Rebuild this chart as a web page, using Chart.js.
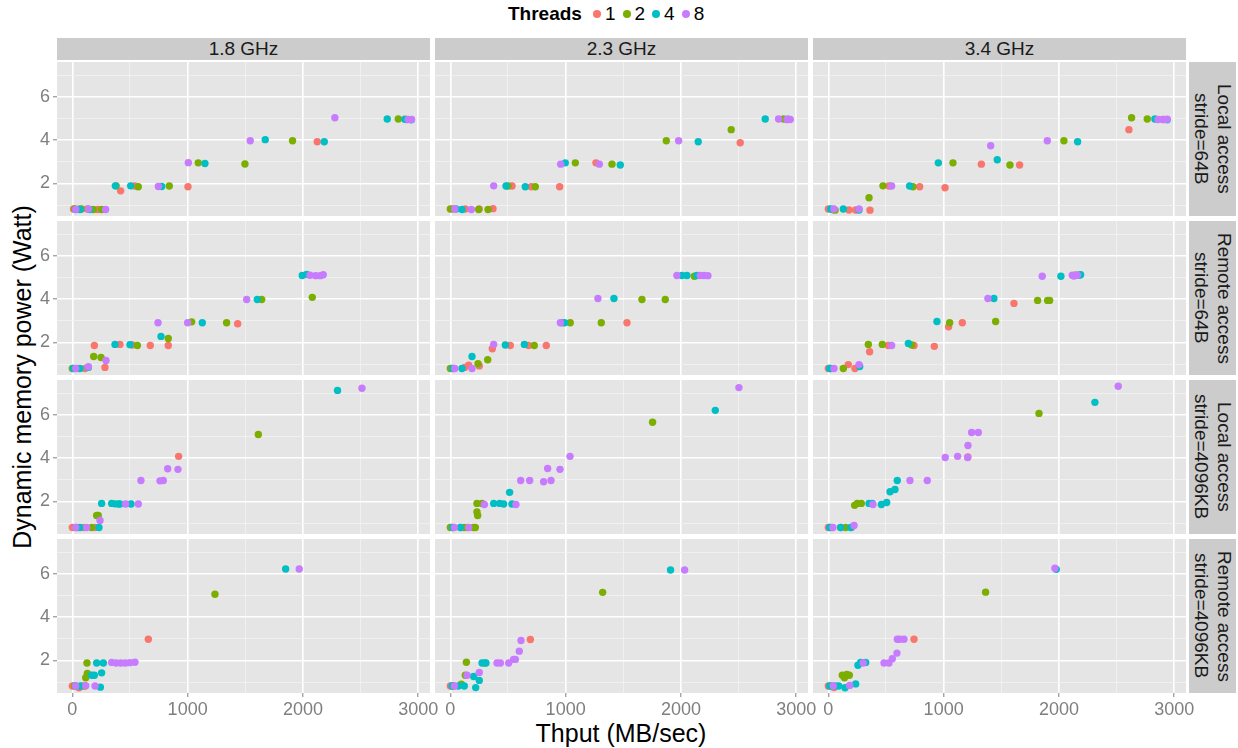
<!DOCTYPE html>
<html>
<head>
<meta charset="utf-8">
<script src="https://cdn.jsdelivr.net/npm/chart.js@4.4.1/dist/chart.umd.min.js"></script>
<style>
  body { margin: 0; width: 1238px; height: 748px; background: #fff; position: relative; overflow: hidden;
         font-family: "Liberation Sans", Arial, sans-serif; }
  canvas { position: absolute; }
  .strip { position: absolute; background: #CCCCCC; color: #1A1A1A; font-size: 19px;
           display: flex; align-items: center; justify-content: center; white-space: nowrap; }
  .strip.side { writing-mode: vertical-rl; line-height: 23px; text-align: center; }
  .title { position: absolute; color: #000; font-size: 25px; white-space: nowrap; }
  #legend { position: absolute; left: 508px; top: 2px; height: 24px; display: flex; align-items: center;
            font-size: 19px; color: #000; }
  #legend b { margin-right: 8px; }
  #legend .dot { width: 8px; height: 8px; border-radius: 50%; display: inline-block; margin: 0 4px 0 3px; }
  #legend span.lab { margin-right: 4px; }
</style>
</head>
<body>
<div id="legend"></div>
<script>
// facettes : colonnes = fréquence, lignes = type d'accès
const freqs = ['1.8 GHz', '2.3 GHz', '3.4 GHz'];
const accessRows = [['Local access', 'stride=64B'], ['Remote access', 'stride=64B'],
                    ['Local access', 'stride=4096KB'], ['Remote access', 'stride=4096KB']];
const threads = ['1', '2', '4', '8'];
const threadColors = ['#F8766D', '#7CAE00', '#00BFC4', '#C77CFF'];
const xTicks = [0, 1000, 2000, 3000];
const yTicks = [2, 4, 6];

// [débit MB/s, puissance W] — Local access, stride=64B
const local64_g18_t1 = [[10,0.82],[60,0.82],[130,0.82],[220,0.8],[419,1.66],[540,1.88],[1003,1.85],[2124,3.92],[2900,4.95]];
const local64_g18_t2 = [[20,0.82],[80,0.82],[182,0.8],[254,0.8],[380,1.89],[572,1.85],[841,1.88],[1092,2.95],[1497,2.9],[1910,3.97],[2827,4.97]];
const local64_g18_t4 = [[30,0.8],[66,0.8],[150,0.8],[373,1.89],[506,1.89],[775,1.86],[1150,2.92],[1673,4.02],[2185,3.92],[2731,4.97],[2884,4.96],[2940,4.94]];
const local64_g18_t8 = [[29,0.8],[139,0.82],[289,0.8],[746,1.86],[1006,2.96],[1543,3.97],[2277,5.03],[2913,4.95],[2942,4.95]];

const local64_g23_t1 = [[20,0.82],[130,0.82],[250,0.82],[370,0.84],[535,1.88],[702,1.85],[948,1.85],[1263,2.95],[2514,3.88],[2920,4.95]];
const local64_g23_t2 = [[0,0.82],[246,0.8],[327,0.8],[500,1.88],[737,1.85],[1084,2.95],[1402,2.89],[1873,3.97],[2436,4.48],[2890,4.97]];
const local64_g23_t4 = [[50,0.82],[101,0.8],[483,1.88],[650,1.85],[997,2.95],[1474,2.85],[2150,3.92],[2731,4.97],[2930,4.96]];
const local64_g23_t8 = [[38,0.82],[182,0.8],[376,1.89],[957,2.89],[1292,2.89],[1980,3.97],[2847,4.97],[2920,4.95],[2948,4.95]];

const local64_g34_t1 = [[0,0.82],[179,0.78],[237,0.78],[361,0.77],[526,1.88],[792,1.85],[1012,1.8],[1327,2.89],[1659,2.85],[2607,4.48],[2900,4.95]];
const local64_g34_t2 = [[40,0.8],[58,0.77],[353,1.34],[474,1.89],[734,1.85],[1081,2.95],[1575,2.85],[2043,3.97],[2630,5.03],[2766,4.97]];
const local64_g34_t4 = [[20,0.82],[130,0.82],[266,0.78],[705,1.88],[954,2.95],[1465,3.09],[2162,3.92],[2832,4.97],[2939,4.94]];
const local64_g34_t8 = [[49,0.82],[266,0.82],[549,1.88],[1408,3.74],[1899,3.97],[2860,4.95],[2910,4.95],[2939,4.96]];

// Remote access, stride=64B
const remote64_g18_t1 = [[40,0.8],[110,0.8],[191,1.86],[283,0.85],[413,1.91],[520,1.88],[676,1.86],[832,1.86],[1434,2.86]];
const remote64_g18_t2 = [[0,0.8],[185,1.35],[249,1.31],[564,1.86],[832,2.18],[1035,2.95],[1338,2.91],[1642,3.98],[2081,4.08]];
const remote64_g18_t4 = [[9,0.8],[66,0.8],[139,0.85],[370,1.91],[500,1.9],[769,2.28],[1127,2.91],[1604,3.98],[1994,5.09],[2032,5.14]];
const remote64_g18_t8 = [[29,0.8],[139,0.88],[292,1.17],[743,2.91],[1000,2.91],[1512,3.98],[2061,5.1],[2110,5.08],[2150,5.08],[2176,5.12]];

const remote64_g23_t1 = [[30,0.8],[124,0.85],[159,0.95],[251,0.92],[364,1.71],[520,1.86],[679,1.86],[832,1.86],[968,2.91],[1532,2.91]];
const remote64_g23_t2 = [[0,0.8],[240,1.02],[324,1.2],[728,1.86],[1040,2.91],[1309,2.91],[1662,3.98],[1864,3.98],[2116,5.05]];
const remote64_g23_t4 = [[20,0.8],[101,0.8],[188,1.35],[477,1.88],[642,1.91],[991,2.91],[1419,4.03],[2009,5.09],[2052,5.09],[2139,5.09]];
const remote64_g23_t8 = [[38,0.8],[188,0.8],[376,1.91],[954,2.91],[1280,4.03],[1965,5.09],[2168,5.09],[2200,5.09],[2234,5.08]];

const remote64_g34_t1 = [[0,0.8],[173,0.98],[231,0.8],[358,1.57],[520,1.86],[743,1.86],[919,1.82],[1043,2.72],[1162,2.91],[1610,3.8],[2150,5.1]];
const remote64_g34_t2 = [[20,0.8],[130,0.8],[347,1.91],[468,1.91],[723,1.88],[1052,2.91],[1451,2.97],[1815,3.94],[1902,3.94],[1919,3.94],[2140,5.1]];
const remote64_g34_t4 = [[12,0.8],[272,0.89],[694,1.95],[942,2.97],[1436,4.03],[2017,5.05],[2173,5.1],[2188,5.12]];
const remote64_g34_t8 = [[49,0.8],[266,0.98],[549,1.86],[1384,4.03],[1855,5.05],[2116,5.1],[2130,5.06],[2160,5.1]];

// Local access, stride=4096KB
const local4k_g18_t1 = [[0,0.8],[40,0.8],[100,0.8],[200,0.8],[922,4.08]];
const local4k_g18_t2 = [[30,0.8],[168,0.8],[211,1.35],[225,1.35],[1613,5.09]];
const local4k_g18_t4 = [[66,0.8],[231,0.8],[254,1.91],[341,1.91],[370,1.89],[400,1.88],[413,1.88],[509,1.88],[2300,7.12]];
const local4k_g18_t8 = [[29,0.8],[124,0.8],[240,1.12],[462,1.88],[572,1.88],[595,2.97],[760,2.95],[789,2.97],[827,3.51],[916,3.48],[2512,7.22]];

const local4k_g23_t1 = [[20,0.8],[90,0.8],[150,0.8]];
const local4k_g23_t2 = [[0,0.8],[120,0.8],[200,0.8],[217,0.8],[231,1.91],[231,1.52],[237,1.35],[275,1.91],[1754,5.65]];
const local4k_g23_t4 = [[20,0.8],[87,0.8],[376,1.91],[428,1.91],[462,1.88],[514,2.42],[535,1.88],[2298,6.2]];
const local4k_g23_t8 = [[35,0.8],[159,0.8],[295,1.86],[569,1.86],[610,2.97],[688,2.97],[809,2.91],[873,2.97],[844,3.52],[951,3.48],[1038,4.08],[2503,7.25]];

const local4k_g34_t1 = [[0,0.8],[107,0.8],[200,0.8],[1210,4.05]];
const local4k_g34_t2 = [[30,0.8],[150,0.8],[228,1.82],[251,1.91],[286,1.91],[1827,6.06]];
const local4k_g34_t4 = [[12,0.8],[107,0.8],[194,0.8],[353,1.91],[381,1.91],[460,1.86],[506,1.95],[535,2.45],[578,2.55],[598,2.97],[2312,6.57]];
const local4k_g34_t8 = [[40,0.8],[223,0.89],[387,1.86],[708,2.97],[858,2.97],[1014,4.03],[1121,4.08],[1208,4.03],[1211,4.58],[1243,5.18],[1301,5.18],[2514,7.31]];

// Remote access, stride=4096KB
const remote4k_g18_t1 = [[0,0.82],[58,0.74],[90,0.82],[659,2.98]];
const remote4k_g18_t2 = [[20,0.82],[110,0.82],[116,1.2],[130,1.4],[127,1.88],[1237,5.05]];
const remote4k_g18_t4 = [[30,0.82],[70,0.82],[168,1.32],[191,1.32],[254,1.43],[243,0.77],[211,1.88],[269,1.88],[1850,6.22]];
const remote4k_g18_t8 = [[29,0.82],[116,0.84],[197,0.82],[341,1.91],[380,1.88],[420,1.88],[460,1.88],[500,1.9],[543,1.92],[1968,6.22]];

const remote4k_g23_t1 = [[0,0.82],[30,0.82],[694,2.97]];
const remote4k_g23_t2 = [[20,0.82],[95,0.91],[130,1.32],[139,1.92],[1321,5.14]];
const remote4k_g23_t4 = [[15,0.82],[70,0.82],[121,0.82],[202,1.26],[220,0.75],[251,1.08],[275,1.88],[300,1.88],[309,1.88],[1910,6.17]];
const remote4k_g23_t8 = [[35,0.82],[145,1.32],[251,1.45],[405,1.88],[434,1.88],[506,1.88],[549,2.05],[564,2.05],[598,2.43],[613,2.92],[2032,6.17]];

const remote4k_g34_t1 = [[0,0.82],[49,0.75],[743,2.98]];
const remote4k_g34_t2 = [[30,0.82],[121,1.32],[140,1.2],[160,1.35],[182,1.32],[1364,5.15]];
const remote4k_g34_t4 = [[12,0.82],[60,0.82],[90,0.82],[145,0.74],[237,0.92],[257,1.78],[280,1.91],[324,1.91],[1977,6.2]];
const remote4k_g34_t8 = [[43,0.82],[185,0.85],[303,1.88],[483,1.88],[526,1.88],[555,2.08],[595,2.34],[598,2.98],[620,2.98],[656,2.98],[1965,6.25]];

const panels = [
  [[local64_g18_t1, local64_g18_t2, local64_g18_t4, local64_g18_t8],
   [local64_g23_t1, local64_g23_t2, local64_g23_t4, local64_g23_t8],
   [local64_g34_t1, local64_g34_t2, local64_g34_t4, local64_g34_t8]],
  [[remote64_g18_t1, remote64_g18_t2, remote64_g18_t4, remote64_g18_t8],
   [remote64_g23_t1, remote64_g23_t2, remote64_g23_t4, remote64_g23_t8],
   [remote64_g34_t1, remote64_g34_t2, remote64_g34_t4, remote64_g34_t8]],
  [[local4k_g18_t1, local4k_g18_t2, local4k_g18_t4, local4k_g18_t8],
   [local4k_g23_t1, local4k_g23_t2, local4k_g23_t4, local4k_g23_t8],
   [local4k_g34_t1, local4k_g34_t2, local4k_g34_t4, local4k_g34_t8]],
  [[remote4k_g18_t1, remote4k_g18_t2, remote4k_g18_t4, remote4k_g18_t8],
   [remote4k_g23_t1, remote4k_g23_t2, remote4k_g23_t4, remote4k_g23_t8],
   [remote4k_g34_t1, remote4k_g34_t2, remote4k_g34_t4, remote4k_g34_t8]]
];

// géométrie des panneaux (pixels)
const PX = [57, 435, 813], PY = [62, 221, 380, 539], PW = 373, PH = 154;
const L = 50, R = 30, T = 20, B = 40;
const FONT = '"Liberation Sans", Arial, sans-serif';

function addDiv(cls, style, html) {
  const d = document.createElement('div');
  d.className = cls;
  Object.assign(d.style, style);
  d.innerHTML = html;
  document.body.appendChild(d);
  return d;
}

// fond gris du panneau
const panelBg = {
  id: 'panelBg',
  beforeDraw(chart) {
    const a = chart.chartArea, c = chart.ctx;
    c.save();
    c.fillStyle = '#E5E5E5';
    c.fillRect(a.left, a.top, a.right - a.left, a.bottom - a.top);
    c.restore();
  }
};

document.addEventListener('DOMContentLoaded', function() {
  // légende
  const leg = document.getElementById('legend');
  let h = '<b>Threads</b>';
  threads.forEach((t, i) => {
    h += '<span class="dot" style="background:' + threadColors[i] + '"></span><span class="lab">' + t + '</span>';
  });
  leg.innerHTML = h;

  // bandeaux
  freqs.forEach((f, c) => addDiv('strip', { left: PX[c] + 'px', top: '38px', width: PW + 'px', height: '22px' }, f));
  accessRows.forEach((r, i) => addDiv('strip side', { left: '1189px', top: PY[i] + 'px', width: '47px', height: PH + 'px' },
    r[0] + '<br>' + r[1]));

  // titres des axes
  addDiv('title', { left: '621px', top: '733px', transform: 'translate(-50%,-50%)' }, 'Thput (MB/sec)');
  addDiv('title', { left: '22px', top: '377px', transform: 'translate(-50%,-50%) rotate(-90deg)' }, 'Dynamic memory power (Watt)');

  for (let r = 0; r < 4; r++) {
    for (let c = 0; c < 3; c++) {
      const cv = document.createElement('canvas');
      cv.width = L + PW + R;
      cv.height = T + PH + B;
      cv.style.left = (PX[c] - L) + 'px';
      cv.style.top = (PY[r] - T) + 'px';
      document.body.appendChild(cv);

      const showY = c === 0, showX = r === 3;
      const datasets = panels[r][c].map((pts, k) => ({
        label: threads[k],
        data: pts.map(p => ({ x: p[0], y: p[1] })),
        backgroundColor: threadColors[k],
        pointRadius: 3.7,
        pointBorderWidth: 0,
        order: 3 - k
      }));

      new Chart(cv.getContext('2d'), {
        type: 'scatter',
        data: { datasets },
        options: {
          responsive: false,
          animation: false,
          devicePixelRatio: 1,
          layout: { padding: { left: 0, right: R, top: T, bottom: 0 } },
          plugins: { legend: { display: false }, tooltip: { enabled: false } },
          scales: {
            x: {
              type: 'linear', min: -133, max: 3102,
              afterBuildTicks: s => { s.ticks = [0, 500, 1000, 1500, 2000, 2500, 3000].map(v => ({ value: v })); },
              afterFit: s => { s.height = B; },
              border: { display: false },
              grid: {
                color: ctx => ctx.tick && ctx.tick.value % 1000 === 0 ? '#FFFFFF' : '#F2F2F2',
                lineWidth: ctx => ctx.tick && ctx.tick.value % 1000 === 0 ? 1.6 : 0.8,
                tickColor: ctx => showX && ctx.tick && ctx.tick.value % 1000 === 0 ? '#7F7F7F' : 'rgba(0,0,0,0)',
                tickLength: 4, tickWidth: 1
              },
              ticks: {
                autoSkip: false, maxRotation: 0, padding: 2,
                color: '#7F7F7F', font: { family: FONT, size: 18 },
                callback: v => (showX && xTicks.includes(v)) ? String(v) : ''
              }
            },
            y: {
              type: 'linear', min: 0.5, max: 7.6,
              afterBuildTicks: s => { s.ticks = [1, 2, 3, 4, 5, 6, 7].map(v => ({ value: v })); },
              afterFit: s => { s.width = L; },
              border: { display: false },
              grid: {
                color: ctx => ctx.tick && ctx.tick.value % 2 === 0 ? '#FFFFFF' : '#F2F2F2',
                lineWidth: ctx => ctx.tick && ctx.tick.value % 2 === 0 ? 1.6 : 0.8,
                tickColor: ctx => showY && ctx.tick && ctx.tick.value % 2 === 0 ? '#7F7F7F' : 'rgba(0,0,0,0)',
                tickLength: 4, tickWidth: 1
              },
              ticks: {
                padding: 3,
                color: '#7F7F7F', font: { family: FONT, size: 18 },
                callback: v => (showY && yTicks.includes(v)) ? String(v) : ''
              }
            }
          }
        },
        plugins: [panelBg]
      });
    }
  }
});
</script>
</body>
</html>
